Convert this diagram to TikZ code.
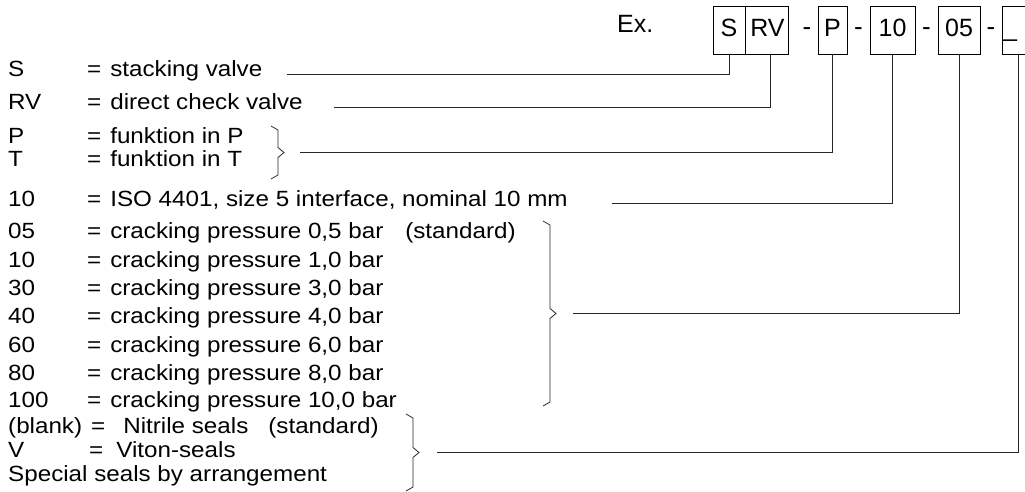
\documentclass[tikz,border=0pt]{standalone}
\usepackage{fontspec}
\setmainfont[FakeStretch=1.1]{Liberation Sans}
\newfontfamily\boxfont{Liberation Sans}
\usetikzlibrary{positioning}
\tikzset{
	codebox/.style={draw, line width=0.9pt, minimum height=48pt, text height=14pt, text depth=0pt, inner sep=0pt, font=\boxfont\fontsize{25}{29}\selectfont},
	dashsign/.style={anchor=base, inner sep=0pt, font=\boxfont\fontsize{26}{30}\selectfont},
	row/.style={anchor=base west, inner sep=0pt, font=\fontsize{22}{26}\selectfont},
	lead/.style={line width=0.9pt, draw=black!85},
	bracket/.style={line width=0.8pt, draw=black!85}
}
% brace: x of the stem, top, bottom
\newcommand{\valvebrace}[3]{%
	\draw[bracket] (#1-7,#2) -- ++(7,4) -- (#1,{(#2+#3)/2-5}) -- ++(6,5) -- ++(-6,5) -- (#1,#3-4) -- ++(-7,4);}
\begin{document}
\begin{tikzpicture}[x=1pt, y=-1pt]
	\useasboundingbox (0,0) rectangle (1025,492);
	\clip (0,0) rectangle (1025,492);
	% type code
	\node[row, font=\boxfont\fontsize{25}{29}\selectfont] (ex) at (617,33) {Ex.};
	\node[codebox, minimum width=32pt] (bS) at (729,30) {S};
	\node[codebox, minimum width=43pt, right=0pt of bS] (bRV) {RV};
	\node[dashsign] (dA) at (807,36) {-};
	\node[codebox, minimum width=29pt] (bP) at (832.5,30) {P};
	\node[dashsign] (dB) at (858.5,36) {-};
	\node[codebox, minimum width=45pt] (b10) at (892.5,30) {10};
	\node[dashsign] (dC) at (926.5,36) {-};
	\node[codebox, minimum width=42pt] (b05) at (959,30) {05};
	\node[dashsign] (dD) at (991,36) {-};
	\node[codebox, minimum width=32pt] (bX) at (1018,30) {\makebox[30pt][l]{\_}};

	% key
	\node[row] (cS) at (8,77) {S};
	\node[row] (tS) at (87,77) {=\hspace{9pt}stacking valve};
	\node[row] (cRV) at (8,110) {RV};
	\node[row] (tRV) at (87,110) {=\hspace{9pt}direct check valve};
	\node[row] (cP) at (8,143) {P};
	\node[row] (tP) at (87,143) {=\hspace{9pt}funktion in P};
	\node[row] (cT) at (8,166) {T};
	\node[row] (tT) at (87,166) {=\hspace{9pt}funktion in T};
	\node[row] (c10) at (8,206) {10};
	\node[row] (t10) at (87,206) {=\hspace{9pt}ISO 4401, size 5 interface, nominal 10 mm};
	\node[row] (c05) at (8,238) {05};
	\node[row] (t05) at (87,238) {=\hspace{9pt}cracking pressure 0,5 bar\hspace{22pt}(standard)};
	\node[row] (c10b) at (8,267) {10};
	\node[row] (t10b) at (87,267) {=\hspace{9pt}cracking pressure 1,0 bar};
	\node[row] (c30) at (8,295) {30};
	\node[row] (t30) at (87,295) {=\hspace{9pt}cracking pressure 3,0 bar};
	\node[row] (c40) at (8,323) {40};
	\node[row] (t40) at (87,323) {=\hspace{9pt}cracking pressure 4,0 bar};
	\node[row] (c60) at (8,352) {60};
	\node[row] (t60) at (87,352) {=\hspace{9pt}cracking pressure 6,0 bar};
	\node[row] (c80) at (8,380) {80};
	\node[row] (t80) at (87,380) {=\hspace{9pt}cracking pressure 8,0 bar};
	\node[row] (c100) at (8,407) {100};
	\node[row] (t100) at (87,407) {=\hspace{9pt}cracking pressure 10,0 bar};
	\node[row] (cN) at (8,433) {(blank)};
	\node[row] (tN) at (91,433) {=\hspace{18pt}Nitrile seals\hspace{20pt}(standard)};
	\node[row] (cV) at (8,457) {V};
	\node[row] (tV) at (89,457) {=\hspace{13pt}Viton-seals};
	\node[row] (cSp) at (8,481) {Special seals by arrangement};

	\valvebrace{278}{126}{179}
	\valvebrace{550}{221}{406}
	\valvebrace{413}{414}{491}

	\coordinate (eS) at (287,74);
	\coordinate (eRV) at (334,107);
	\coordinate (ePT) at (300,152.5);
	\coordinate (e10) at (612,203);
	\coordinate (e05) at (573,313.5);
	\coordinate (eX) at (437,452.5);
	\draw[lead] (bS.south) |- (eS);
	\draw[lead] ([xshift=3pt]bRV.south) |- (eRV);
	\draw[lead] (bP.south) |- (ePT);
	\draw[lead] (b10.south) |- (e10);
	\draw[lead] (b05.south) |- (e05);
	\draw[lead] (bX.south) |- (eX);
\end{tikzpicture}
\end{document}
